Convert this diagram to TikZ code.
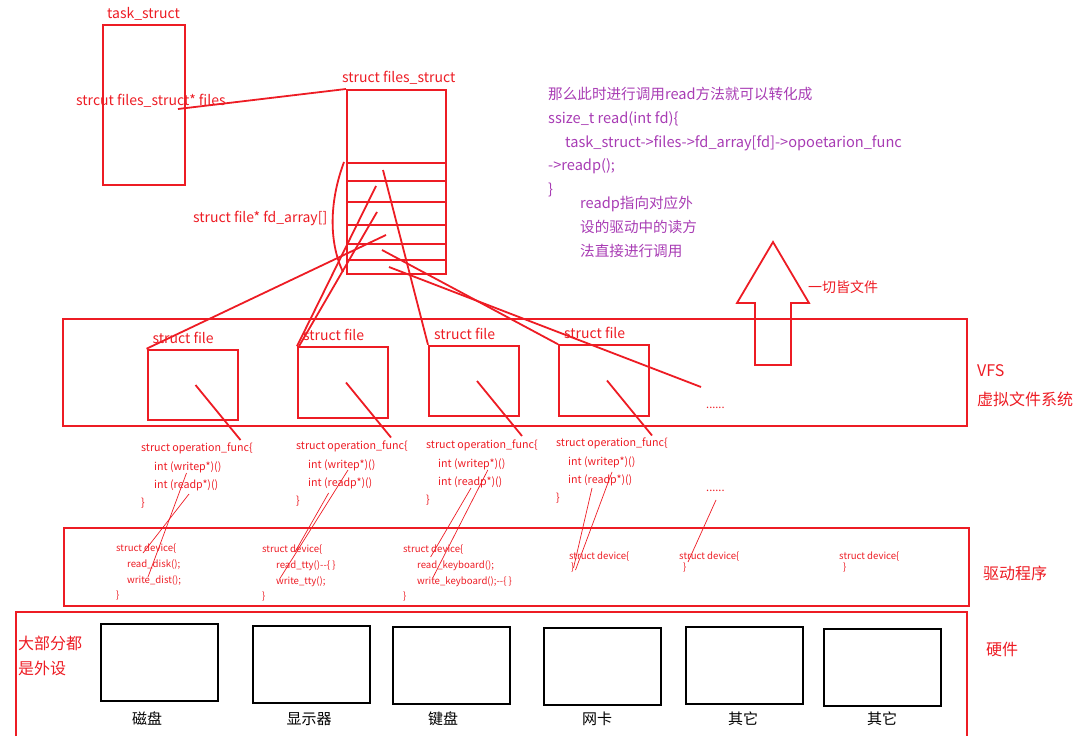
\documentclass[tikz,border=0pt]{standalone}
\usepackage{fontspec}
\setmainfont{Noto Sans CJK SC}
\definecolor{paintred}{HTML}{ED1C24}
\definecolor{notepurple}{HTML}{A83CB4}

\begin{document}
\begin{tikzpicture}[
        x=1pt, y=-1pt,
        redbox/.style={draw=paintred, line width=2pt, inner sep=0pt},
        filebox/.style={redbox, minimum width=90pt, minimum height=70.5pt},
        hwbox/.style={draw=black, line width=2pt, inner sep=0pt, minimum width=117pt, minimum height=77pt},
        link/.style={draw=paintred, line width=1.8pt},
        thinlink/.style={draw=paintred, line width=0.7pt},
        redlabel/.style={text=paintred, inner sep=0pt, anchor=west, font=\fontsize{14}{16}\selectfont},
        optext/.style={text=paintred, inner sep=0pt, anchor=north west, align=left, font=\fontsize{10.7}{18.3}\selectfont},
        devtext/.style={text=paintred, inner sep=0pt, anchor=north west, align=left, font=\fontsize{9.6}{15.7}\selectfont},
        notetext/.style={text=notepurple, inner sep=0pt, anchor=north west, align=left, font=\fontsize{14.6}{23.8}\selectfont},
        sidetext/.style={text=paintred, inner sep=0pt, anchor=west, font=\fontsize{16}{18}\selectfont},
        hwlabel/.style={text=black, inner sep=0pt, font=\fontsize{15}{17}\selectfont}
    ]
        \useasboundingbox (0,0) rectangle (1089,751);

        \node[redlabel] (tasklabel) at (107,14) {task\_struct};
        \node[redbox, minimum width=82pt, minimum height=160pt] (task) at (144,105) {};
        \node[redlabel] (filesptr) at (76,101) {strcut files\_struct* files};
        \node[redlabel] (fslabel) at (342,78) {struct files\_struct};
        \node[redbox, minimum width=99pt, minimum height=184pt] (fs) at (396.5,182) {};
        \foreach \y in {163,181,202,225,244,260}
            \draw[link] (347,\y) -- (446,\y);
        \node[redlabel] (fdlabel) at (193,218) {struct file* fd\_array[]};
        \draw[link] (344,162) .. controls (328,205) and (330,245) .. (343,272);
        \coordinate (filesend) at (178,109);
        \draw[link] (filesend) -- (fs.north west);

        \node[notetext] (readnote) at (548,87) {那么此时进行调用read方法就可以转化成\\ssize\_t read(int fd)\{\\\hspace*{17pt}task\_struct->files->fd\_array[fd]->opoetarion\_func\\->readp();\\\}};
        \node[notetext] (readpnote) at (580,196) {readp指向对应外\\设的驱动中的读方\\法直接进行调用};

        \node[redbox, minimum width=904pt, minimum height=107pt] (vfs) at (515,372.5) {};
        \foreach \i/\x/\y in {1/192.5/385, 2/343/382.5, 3/474/381, 4/604/380.5}{
            \node[filebox] (file\i) at (\x,\y) {};
            \node[redlabel, anchor=south west] (filename\i) at ([xshift=6pt,yshift=5pt]file\i.north west) {struct file};
            \coordinate (fn\i) at ([shift={(48,55)}]file\i.center);
            \draw[link] ([xshift=3pt]file\i.center) -- (fn\i);
        }
        \node[redlabel, font=\fontsize{11}{13}\selectfont] (vfsmore) at (706,408) {......};

        \coordinate (s1) at (383,170);
        \coordinate (s2) at (376,186);
        \coordinate (s3) at (377,212);
        \coordinate (s4) at (386,235);
        \coordinate (s5) at (382,250);
        \coordinate (s6) at (389,267);
        \coordinate (moreend) at (701,387);
        \draw[link] (s1) -- (file3.north west);
        \draw[link] (s2) -- (file2.north west);
        \draw[link] (s3) -- ([xshift=2pt]file2.north west);
        \draw[link] (s4) -- (file1.north west);
        \draw[link] (s5) -- (file4.north west);
        \draw[link] (s6) -- (moreend);

        \draw[link] (773,242) -- (809,303) -- (791,303) -- (791,365) -- (755,365) -- (755,303) -- (737,303) -- cycle;
        \node[sidetext, font=\fontsize{14}{16}\selectfont] (everything) at (808,287) {一切皆文件};

        \node[optext] (op1) at (141,443) {struct operation\_func\{\\\hspace*{13pt}int (writep*)()\\\hspace*{13pt}int (readp*)()\\\}};
        \node[optext] (op2) at (296,441) {struct operation\_func\{\\\hspace*{12pt}int (writep*)()\\\hspace*{12pt}int (readp*)()\\\}};
        \node[optext] (op3) at (426,440) {struct operation\_func\{\\\hspace*{12pt}int (writep*)()\\\hspace*{12pt}int (readp*)()\\\}};
        \node[optext] (op4) at (556,438) {struct operation\_func\{\\\hspace*{12pt}int (writep*)()\\\hspace*{12pt}int (readp*)()\\\}};
        \node[redlabel, font=\fontsize{11}{13}\selectfont] (opmore) at (706,491) {......};

        \node[redbox, minimum width=905pt, minimum height=78pt] (driver) at (516,567) {};
        \node[devtext] (dev1) at (116,544) {struct device\{\\\hspace*{11pt}read\_disk();\\\hspace*{11pt}write\_dist();\\\}};
        \node[devtext] (dev2) at (262,545) {struct device\{\\\hspace*{14pt}read\_tty()-{}-\{ \}\\\hspace*{14pt}write\_tty();\\\}};
        \node[devtext] (dev3) at (403,545) {struct device\{\\\hspace*{14pt}read\_keyboard();\\\hspace*{14pt}write\_keyboard();-{}-\{ \}\\\}};
        \node[devtext, font=\fontsize{9.6}{11}\selectfont] (dev4) at (569,552) {struct device\{\\\hspace*{2pt}\}};
        \node[devtext, font=\fontsize{9.6}{11}\selectfont] (dev5) at (679,552) {struct device\{\\\hspace*{4pt}\}};
        \node[devtext, font=\fontsize{9.6}{11}\selectfont] (dev6) at (839,552) {struct device\{\\\hspace*{4pt}\}};

        \coordinate (w1) at (186.5,473);
        \coordinate (r1) at (189,494);
        \coordinate (w2) at (348,470);
        \coordinate (r2) at (328.6,493);
        \coordinate (w3) at (487.8,470);
        \coordinate (r3) at (471,488);
        \coordinate (w4) at (612,472);
        \coordinate (r4) at (592,488);
        \coordinate (m5) at (716,500);
        \coordinate (wd1) at (148,577);
        \coordinate (rd1) at (143,553);
        \coordinate (wd2) at (279.6,579);
        \coordinate (rd2) at (295,552);
        \coordinate (wd3) at (432.7,578);
        \coordinate (rd3) at (430.6,557);
        \coordinate (wd4) at (575.5,570);
        \coordinate (rd4) at (573.5,568);
        \coordinate (md5) at (688,562);
        \foreach \a/\b in {w1/wd1, r1/rd1, w2/wd2, r2/rd2, w3/wd3, r3/rd3, w4/wd4, r4/rd4, m5/md5}
            \draw[thinlink] (\a) -- (\b);

        \draw[redbox] (16,736) -- (16,612) -- (967,612) -- (967,736);
        \node[sidetext, anchor=north west, align=left, font=\fontsize{16}{25}\selectfont] (periph) at (18,636) {大部分都\\是外设};
        \foreach \i/\x/\y/\lx/\txt in {1/159/662.5/147/磁盘, 2/311/664/309/显示器, 3/451/665/443/键盘, 4/602.5/666/597/网卡, 5/744/665.5/743/其它, 6/882/667.5/882/其它}{
            \node[hwbox] (hw\i) at (\x,\y) {};
            \node[hwlabel] (hwname\i) at (\lx,719) {\txt};
        }

        \node[sidetext] (vfsname) at (977,371) {VFS};
        \node[sidetext] (vfscn) at (977,399) {虚拟文件系统};
        \node[sidetext] (drivername) at (983,573) {驱动程序};
        \node[sidetext] (hwname) at (986,649) {硬件};
    \end{tikzpicture}
\end{document}
